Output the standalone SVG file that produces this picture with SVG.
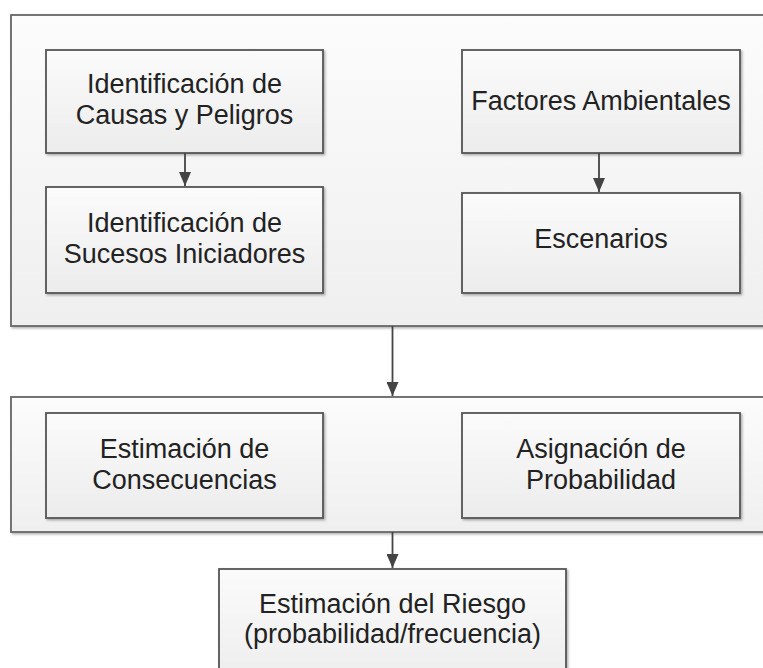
<svg xmlns="http://www.w3.org/2000/svg" width="763" height="668" viewBox="0 0 763 668">
<defs>
<linearGradient id="gBox" x1="0" y1="0" x2="0" y2="1">
<stop offset="0" stop-color="#fbfbfb"/>
<stop offset="1" stop-color="#ececec"/>
</linearGradient>
<linearGradient id="gCont" x1="0" y1="0" x2="0" y2="1">
<stop offset="0" stop-color="#fcfcfc"/>
<stop offset="1" stop-color="#efefef"/>
</linearGradient>
<filter id="sh" x="-5%" y="-5%" width="115%" height="115%">
<feDropShadow dx="1.5" dy="1.5" stdDeviation="1.2" flood-color="#000" flood-opacity="0.3"/>
</filter>
<marker id="arr" markerWidth="14" markerHeight="12" refX="14" refY="6" orient="auto" markerUnits="userSpaceOnUse" viewBox="0 0 14 12">
<path d="M0,0 L14,6 L0,12 Z" fill="#444"/>
</marker>
</defs>
<style>
.cont{fill:url(#gCont);stroke:#666;stroke-width:1.8;filter:url(#sh)}
.box{fill:url(#gBox);stroke:#555;stroke-width:1.8;filter:url(#sh)}
.t{font-family:"Liberation Sans",Arial,sans-serif;font-size:27px;fill:#222;text-anchor:middle}
.c{stroke:#444;stroke-width:1.8;fill:none}
</style>
<rect width="763" height="668" fill="#ffffff"/>
<g id="grupo1">
<rect class="cont" x="11" y="15" width="770" height="311"/>
</g>
<g id="grupo2">
<rect class="cont" x="11" y="397" width="770" height="135"/>
</g>
<g id="causas">
<rect class="box" x="46" y="50" width="277" height="103"/>
<text class="t" x="184.5" y="92.5">Identificación de</text>
<text class="t" x="184.5" y="123.5">Causas y Peligros</text>
</g>
<g id="sucesos">
<rect class="box" x="46" y="187" width="277" height="106"/>
<text class="t" x="184.5" y="231.5">Identificación de</text>
<text class="t" x="184.5" y="262.5">Sucesos Iniciadores</text>
</g>
<g id="factores">
<rect class="box" x="462" y="50" width="278" height="103"/>
<text class="t" x="601" y="110">Factores Ambientales</text>
</g>
<g id="escenarios">
<rect class="box" x="462" y="193" width="278" height="100"/>
<text class="t" x="601" y="248">Escenarios</text>
</g>
<g id="consecuencias">
<rect class="box" x="46" y="413" width="277" height="105"/>
<text class="t" x="184.5" y="457.5">Estimación de</text>
<text class="t" x="184.5" y="488.5">Consecuencias</text>
</g>
<g id="probabilidad">
<rect class="box" x="462" y="413" width="278" height="105"/>
<text class="t" x="601" y="457.5">Asignación de</text>
<text class="t" x="601" y="488.5">Probabilidad</text>
</g>
<g id="riesgo">
<rect class="box" x="219" y="569" width="347" height="120"/>
<text class="t" x="392.5" y="612.5">Estimación del Riesgo</text>
<text class="t" x="392.5" y="642.5">(probabilidad/frecuencia)</text>
</g>
<g id="conectores">
<line class="c" x1="185" y1="153" x2="185" y2="186" marker-end="url(#arr)"/>
<line class="c" x1="599" y1="153" x2="599" y2="192" marker-end="url(#arr)"/>
<line class="c" x1="392.5" y1="326" x2="392.5" y2="396" marker-end="url(#arr)"/>
<line class="c" x1="392.5" y1="532" x2="392.5" y2="568" marker-end="url(#arr)"/>
</g>
</svg>
